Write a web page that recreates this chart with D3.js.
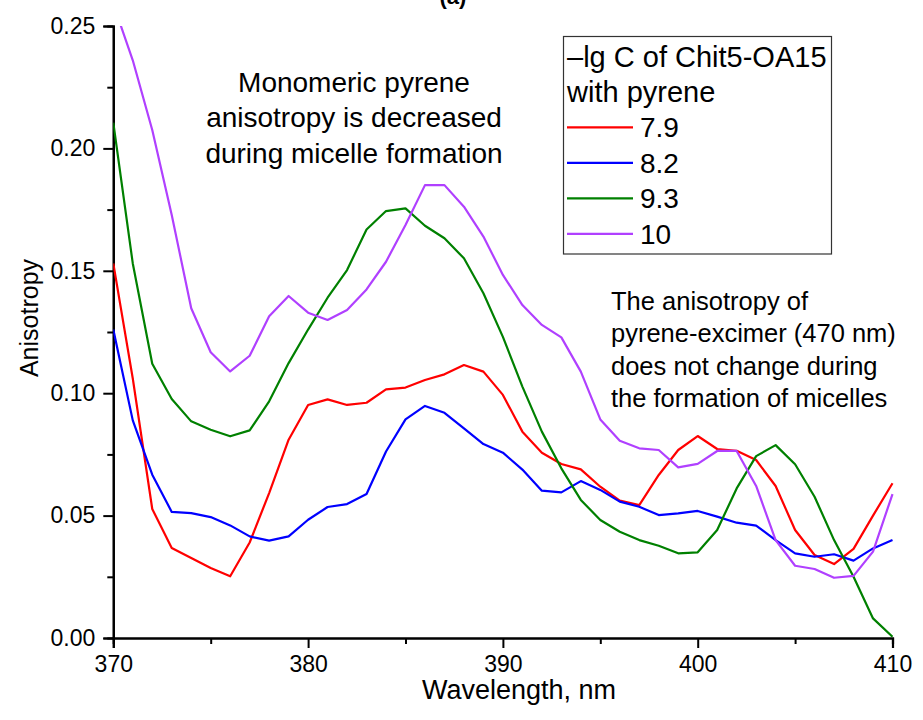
<!DOCTYPE html>
<html>
<head>
<meta charset="utf-8">
<script src="https://cdn.jsdelivr.net/npm/d3@7"></script>
<style>
  body { margin: 0; background: #fff; }
  text { font-family: "Liberation Sans", Arial, sans-serif; fill: #000; }
</style>
</head>
<body>
<svg id="chart" width="923" height="720"></svg>
<script>
const wavelengths = d3.range(370, 411);
const seriesNames = ["7.9", "8.2", "9.3", "10"];
const seriesColors = ["#ff0000", "#0000ff", "#008000", "#b040ff"];
const red79 = [0.153,0.106,0.0527,0.0368,0.0327,0.0286,0.0252,0.039,0.0592,0.081,
  0.0952,0.0975,0.0952,0.0961,0.1016,0.1023,0.1054,0.1077,0.1115,0.1088,
  0.0993,0.0843,0.0757,0.0711,0.0689,0.0618,0.0561,0.0543,0.0666,0.0768,
  0.0825,0.0772,0.0765,0.0727,0.0621,0.0441,0.0339,0.0302,0.0364,0.05,0.0632];
const blue82 = [0.126,0.0889,0.0667,0.0515,0.051,0.0494,0.046,0.0415,0.0398,0.0415,
  0.0483,0.0535,0.0547,0.0588,0.0762,0.0893,0.0948,0.092,0.0856,0.0792,
  0.0757,0.0688,0.0602,0.0595,0.0641,0.0605,0.0557,0.0536,0.0502,0.0509,
  0.0519,0.0496,0.0471,0.0459,0.04,0.0346,0.0332,0.0342,0.0316,0.0366,0.04];
const green93 = [0.2105,0.153,0.112,0.0976,0.0885,0.0851,0.0824,0.0848,0.0967,0.1123,
  0.126,0.139,0.1503,0.1669,0.1744,0.1755,0.1684,0.1633,0.1551,0.1408,
  0.123,0.1027,0.0843,0.0693,0.0564,0.0482,0.0434,0.04,0.0377,0.0346,
  0.035,0.0441,0.0611,0.0743,0.0788,0.071,0.0577,0.04,0.025,0.008,0.0005];
const purple10 = [0.259,0.236,0.2075,0.1728,0.1347,0.1167,0.1089,0.1153,0.1314,0.1397,
  0.1329,0.1299,0.134,0.1424,0.1537,0.1687,0.185,0.185,0.1762,0.164,
  0.1483,0.136,0.1279,0.1228,0.1088,0.0893,0.0806,0.0775,0.0768,0.0697,
  0.0711,0.0764,0.0764,0.0621,0.04,0.0295,0.0282,0.0246,0.0254,0.0353,0.0588];
const seriesValues = [red79, blue82, green93, purple10];
const xTicks = [370, 380, 390, 400, 410];
const yTicks = [0, 0.05, 0.10, 0.15, 0.20, 0.25];
const legendTitle = ["\u2013lg C of Chit5-OA15", "with pyrene"];
const note1 = ["Monomeric pyrene", "anisotropy is decreased", "during micelle formation"];
const note2 = ["The anisotropy of", "pyrene-excimer (470 nm)", "does not change during", "the formation of micelles"];

const svg = d3.select("#chart");
const L = 113.3, R = 892.5, T = 26, B = 638;
const x = d3.scaleLinear().domain([370, 410]).range([L, R]);
const y = d3.scaleLinear().domain([0, 0.25]).range([B, T]);

svg.append("defs").append("clipPath").attr("id", "clip")
  .append("rect").attr("x", L).attr("y", T).attr("width", R - L + 2).attr("height", B - T);

// title fragment (cut off at the top edge, as in the reference)
svg.append("text").attr("x", 453).attr("y", 4).attr("text-anchor", "middle")
  .style("font-size", "22px").style("font-weight", "bold").text("(a)");

// Axes
const xAxis = svg.append("g").attr("transform", `translate(0,${B})`)
  .call(d3.axisBottom(x).tickValues(xTicks).tickFormat(d3.format("d")).tickSize(10).tickPadding(8));
svg.append("g").attr("transform", `translate(0,${B})`)
  .call(d3.axisBottom(x).tickValues([375, 385, 395, 405]).tickFormat("").tickSize(6));
const yAxis = svg.append("g").attr("transform", `translate(${L},0)`)
  .call(d3.axisLeft(y).tickValues(yTicks).tickFormat(d3.format(".2f")).tickSize(10).tickPadding(8));
svg.append("g").attr("transform", `translate(${L},0)`)
  .call(d3.axisLeft(y).tickValues([0.025, 0.075, 0.125, 0.175, 0.225]).tickFormat("").tickSize(6));
svg.selectAll(".domain").attr("stroke", "#000").attr("stroke-width", 2.2);
svg.selectAll(".tick line").attr("stroke", "#000").attr("stroke-width", 2);
xAxis.selectAll(".tick text").style("font-size", "23px").style("font-family", "Liberation Sans, Arial, sans-serif");
yAxis.selectAll(".tick text").style("font-size", "23px").style("font-family", "Liberation Sans, Arial, sans-serif");

// axis titles
svg.append("text").attr("x", 519).attr("y", 699).attr("text-anchor", "middle")
  .style("font-size", "27px").text("Wavelength, nm");
svg.append("text").attr("transform", `translate(38,318) rotate(-90)`).attr("text-anchor", "middle")
  .style("font-size", "25px").text("Anisotropy");

// lines
const line = d3.line().x((d, i) => x(wavelengths[i])).y(d => y(d));
const plot = svg.append("g").attr("clip-path", "url(#clip)");
seriesValues.forEach((vals, k) => {
  plot.append("path").datum(vals).attr("d", line).attr("fill", "none")
    .attr("stroke", seriesColors[k]).attr("stroke-width", 2.2).attr("stroke-linejoin", "round");
});

// annotations
const n1 = svg.append("text").attr("text-anchor", "middle").style("font-size", "28px");
note1.forEach((t, i) => n1.append("tspan").attr("x", 354).attr("y", 91.7 + i * 35.5).text(t));
const n2 = svg.append("text").attr("text-anchor", "start").style("font-size", "25.5px");
note2.forEach((t, i) => n2.append("tspan").attr("x", 611).attr("y", 310 + i * 32.3).text(t));

// legend
const lg = svg.append("g");
lg.append("rect").attr("x", 563.5).attr("y", 36.5).attr("width", 268).attr("height", 217.5)
  .attr("fill", "#fff").attr("stroke", "#333").attr("stroke-width", 1.2);
legendTitle.forEach((t, i) => lg.append("text").attr("x", 567).attr("y", 66.7 + i * 35)
  .style("font-size", "29px").text(t));
seriesNames.forEach((name, k) => {
  const yy = 127.3 + k * 35.5;
  lg.append("line").attr("x1", 567).attr("x2", 633).attr("y1", yy).attr("y2", yy)
    .attr("stroke", seriesColors[k]).attr("stroke-width", 2.2);
  lg.append("text").attr("x", 640).attr("y", yy + 10).style("font-size", "28px").text(name);
});
</script>
</body>
</html>
